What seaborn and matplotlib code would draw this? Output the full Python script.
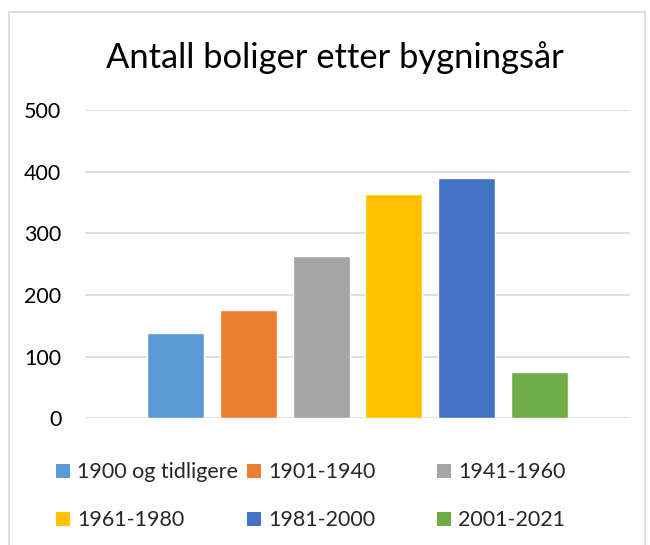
import matplotlib
matplotlib.use("Agg")
import matplotlib.pyplot as plt
import seaborn as sns
import pandas as pd
from matplotlib.patches import Rectangle, Patch

categories = ["1900 og tidligere", "1901-1940", "1941-1960", "1961-1980", "1981-2000", "2001-2021"]
values = [139, 176, 264, 364, 390, 75]
colors = ["#5B9BD5", "#ED7D31", "#A5A5A5", "#FFC000", "#4472C4", "#70AD47"]
yticks = [0, 100, 200, 300, 400, 500]
title = "Antall boliger etter bygningsår"

sns.set_theme(style="white")
plt.rcParams["font.family"] = ["Lato", "DejaVu Sans"]

W, H = 650, 545
fig = plt.figure(figsize=(6.5, 5.45), dpi=100)

# chart border
fig.add_artist(Rectangle((8.5 / W, -0.01), (644.5 - 8.5) / W, (H - 12) / H + 0.01,
                         transform=fig.transFigure, fill=False, edgecolor="#d9d9d9", lw=1.2))

ax = fig.add_axes([85 / W, (H - 418.3) / H, 545 / W, 308.3 / H])
df = pd.DataFrame({"kategori": categories, "antall": values})
sns.barplot(data=df, x="kategori", y="antall", hue="kategori", palette=colors,
            dodge=False, width=0.785, ax=ax, legend=False, saturation=1)

ax.set_xlim(-1.25, 5 + 1.25)
ax.set_ylim(0, 500)
ax.set_yticks(yticks)
ax.set_yticklabels([str(v) for v in yticks], fontsize=15.5, color="#000000")
ax.set_xticks([])
ax.set_xlabel("")
ax.set_ylabel("")
ax.tick_params(axis="y", length=0, pad=17)
for s in ax.spines.values():
    s.set_visible(False)
ax.set_axisbelow(True)
ax.yaxis.grid(True, color="#d9d9d9", lw=1.2)

fig.text(334.5 / W, 1 - 58 / H, title, ha="center", va="center", fontsize=24.8, color="#000000")

# legend: three columns
col_x = [56, 247, 437]
col_items = [[0, 3], [1, 4], [2, 5]]
for cx, idxs in zip(col_x, col_items):
    handles = [Patch(facecolor=colors[i], edgecolor="none", label=categories[i]) for i in idxs]
    fig.legend(handles=handles, loc="upper left",
               bbox_to_anchor=(cx / W, 1 - 462.5 / H), frameon=False,
               fontsize=15.5, handlelength=0.65, handleheight=0.65, handletextpad=0.33,
               labelspacing=1.29, borderpad=0, borderaxespad=0)

fig.savefig("out.png", dpi=100)
